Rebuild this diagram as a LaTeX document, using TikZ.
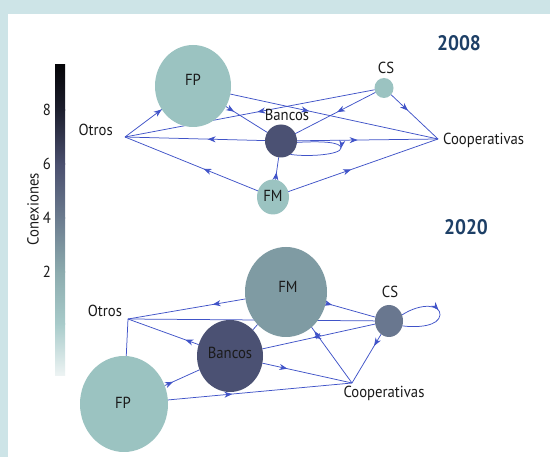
\documentclass[tikz,border=0pt]{standalone}
\usepackage{fontspec}
\setmainfont{PT Sans}[FakeStretch=0.92]
\usetikzlibrary{shapes.geometric,arrows.meta,decorations.markings}

\definecolor{band}{HTML}{CDE4E7}
\definecolor{tealnode}{HTML}{9BC3C1}
\definecolor{banknode}{HTML}{4B5173}
\definecolor{fmnode}{HTML}{7F9BA3}
\definecolor{csnode}{HTML}{69778F}
\definecolor{linkblue}{HTML}{4053C8}
\definecolor{titleblue}{HTML}{1D3F66}
\definecolor{labeltext}{HTML}{1A1A1A}
\definecolor{cbA}{HTML}{050508}
\definecolor{cbB}{HTML}{1D1F2E}
\definecolor{cbC}{HTML}{4A4F6E}
\definecolor{cbD}{HTML}{6B7B8E}
\definecolor{cbE}{HTML}{8CABAE}
\definecolor{cbF}{HTML}{A8CBCA}
\definecolor{cbG}{HTML}{EEF4F4}

\newcommand\lblfont{\fontsize{16}{18}\selectfont}
\newcommand\yearfont{\fontsize{21}{24}\selectfont\bfseries}

\pgfdeclarelayer{backdrop}
\pgfdeclarelayer{links}
\pgfsetlayers{backdrop,links,main}

\tikzset{
  link/.style={draw, color=linkblue, line width=0.75pt},
  arr/.style={postaction={decorate}, decoration={markings,
      mark=at position #1 with {\arrow{Stealth[length=8pt,width=6pt,inset=2.5pt]}}}},
  vtx/.style={ellipse, draw=none, inner sep=0pt, outer sep=0pt},
  lbl/.style={font=\lblfont, text=labeltext, inner sep=0pt},
  yeartitle/.style={font=\yearfont, text=titleblue, inner sep=0pt},
}

\begin{document}
\begin{tikzpicture}[x=1pt,y=-1pt]

% frame
\begin{pgfonlayer}{backdrop}
  \fill[band] (0,0) rectangle (550,457);
  \fill[white] (8,14) rectangle (550,457);
\end{pgfonlayer}
\useasboundingbox (0,0) rectangle (550,457);

% colour bar
\shade[top color=cbA, bottom color=cbB] (55,65) rectangle (65,110.5);
\shade[top color=cbB, bottom color=cbC] (55,110) rectangle (65,164.5);
\shade[top color=cbC, bottom color=cbD] (55,164) rectangle (65,218.5);
\shade[top color=cbD, bottom color=cbE] (55,218) rectangle (65,272.5);
\shade[top color=cbE, bottom color=cbF] (55,272) rectangle (65,324.5);
\shade[top color=cbF, bottom color=cbG] (55,324) rectangle (65,376);
\node[lbl, anchor=east] (t8) at (51,110) {8};
\node[lbl, anchor=east] (t6) at (51,164) {6};
\node[lbl, anchor=east] (t4) at (51,218) {4};
\node[lbl, anchor=east] (t2) at (51,272) {2};
\node[lbl, rotate=90] (cbtitle) at (33,209) {Conexiones};

% ---------- 2008 ----------
\node[yeartitle] (y8) at (459,43) {2008};
\node[vtx, fill=tealnode, minimum width=76pt, minimum height=82pt] (fp8) at (193,86) {};
\node[vtx, fill=banknode, minimum width=32pt, minimum height=33pt] (bk8) at (281,141) {};
\node[vtx, fill=tealnode, minimum width=19pt, minimum height=20pt] (cs8) at (384,88) {};
\node[vtx, fill=tealnode, minimum width=32pt, minimum height=35pt] (fm8) at (273,197) {};
\coordinate (ot8) at (125,137);
\coordinate (co8) at (438,139);
\coordinate (lp8) at (341,148);

\node[lbl] (fp8t) at (193,80) {FP};
\node[lbl] (bk8t) at (287,115) {Bancos};
\node[lbl] (cs8t) at (386,68) {CS};
\node[lbl] (fm8t) at (273,196) {FM};
\node[lbl, anchor=east] (ot8t) at (113,130) {Otros};
\node[lbl, anchor=west] (co8t) at (443,140) {Cooperativas};

\begin{pgfonlayer}{links}
  \draw[link, arr=0.999] (ot8) -- (fp8);
  \draw[link, arr=0.47] (cs8) -- (ot8);
  \draw[link, arr=0.41] (bk8) -- (ot8);
  \draw[link, arr=0.41] (fm8) -- (ot8);
  \draw[link, arr=0.2] (fp8) -- (bk8);
  \draw[link, arr=0.38] (fp8) -- (co8);
  \draw[link, arr=0.48] (cs8) -- (bk8);
  \draw[link, arr=0.36] (cs8) -- (co8);
  \draw[link, arr=0.43] (bk8) -- (co8);
  \draw[link, arr=0.33] (fm8) -- (bk8);
  \draw[link, arr=0.42] (fm8) -- (co8);
  \draw[link, arr=0.47] (bk8.-5) .. controls (322,141) and (341,142) .. (lp8)
        .. controls (341,155) and (306,157) .. (bk8.-55);
\end{pgfonlayer}

% ---------- 2020 ----------
\node[yeartitle] (y20) at (466,227) {2020};
\node[vtx, fill=fmnode, minimum width=82pt, minimum height=90pt] (fm20) at (286,292) {};
\node[vtx, fill=banknode, minimum width=66pt, minimum height=72pt] (bk20) at (230,356) {};
\node[vtx, fill=tealnode, minimum width=88pt, minimum height=96pt] (fp20) at (124,404) {};
\node[vtx, fill=csnode, minimum width=28pt, minimum height=32pt] (cs20) at (389,321) {};
\coordinate (ot20) at (128,319);
\coordinate (co20) at (352,383);
\coordinate (lp20) at (440,315);

\node[lbl] (fm20t) at (288,287) {FM};
\node[lbl] (bk20t) at (230,353) {Bancos};
\node[lbl] (fp20t) at (123,403) {FP};
\node[lbl] (cs20t) at (390,292) {CS};
\node[lbl] (ot20t) at (105,311) {Otros};
\node[lbl] (co20t) at (384,393) {Cooperativas};

\begin{pgfonlayer}{links}
  \draw[link, arr=0.28] (fm20) -- (ot20);
  \draw[link] (ot20) -- (cs20);
  \draw[link, arr=0.19] (bk20) -- (ot20);
  \draw[link] (ot20) -- (fp20);
  \draw[link, arr=0.24] (fp20) -- (bk20);
  \draw[link, arr=0.35] (fp20) -- (co20);
  \draw[link, arr=0.28] (bk20) -- (co20);
  \draw[link, arr=0.55] (cs20) -- (bk20);
  \draw[link, arr=0.93] (co20) -- (fm20);
  \draw[link, arr=0.13] (fm20) -- (cs20);
  \draw[link, arr=0.24] (cs20) -- (co20);
  \draw[link] (fm20) -- (bk20);
  \draw[link, arr=0.45] (cs20.25) .. controls (422,302) and (441,305) .. (lp20)
        .. controls (439,326) and (418,328) .. (cs20.-20);
\end{pgfonlayer}

\end{tikzpicture}
\end{document}
